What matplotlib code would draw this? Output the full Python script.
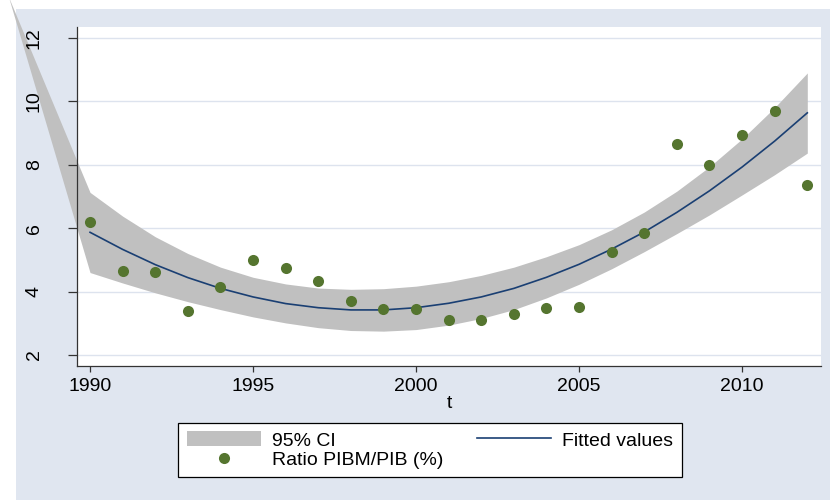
import matplotlib
matplotlib.use("Agg")
import matplotlib.pyplot as plt
from matplotlib.patches import Rectangle, Patch
from matplotlib.lines import Line2D

plt.rcParams['font.family'] = ['Liberation Sans', 'DejaVu Sans']

# observed ratio, one value per year
years = list(range(1990, 2013))
ratio = [6.20, 4.66, 4.63, 3.40, 4.15, 5.01, 4.74, 4.32, 3.69, 3.44, 3.44, 3.10,
         3.09, 3.29, 3.48, 3.52, 5.25, 5.86, 8.65, 8.00, 8.93, 9.69, 7.37]

# quadratic fit
fitted = [5.87, 5.33, 4.85, 4.44, 4.10, 3.83, 3.62, 3.49, 3.42, 3.42, 3.49, 3.63,
          3.83, 4.10, 4.45, 4.86, 5.34, 5.88, 6.50, 7.18, 7.93, 8.75, 9.64]

# 95% confidence band (first point is the stray vertex the band is closed on)
ci_t = [1987.5] + years
ci_lo = [13.3, 4.60, 4.27, 3.96, 3.68, 3.43, 3.20, 3.01, 2.86, 2.77, 2.75, 2.80, 2.94,
         3.15, 3.43, 3.80, 4.23, 4.72, 5.26, 5.83, 6.42, 7.05, 7.69, 8.37]
ci_hi = [13.3, 7.13, 6.38, 5.73, 5.20, 4.77, 4.45, 4.24, 4.11, 4.07, 4.09, 4.17, 4.31,
         4.51, 4.77, 5.10, 5.48, 5.95, 6.51, 7.17, 7.94, 8.82, 9.81, 10.90]

x_ticks = [1990, 1995, 2000, 2005, 2010]
y_ticks = [2, 4, 6, 8, 10, 12]

BG = '#e0e6f0'
GRID = '#dde3ee'
BAND = '#c0c0c0'
NAVY = '#1a3f73'
GREEN = '#55752f'
FS = 14

fig = plt.figure(figsize=(8.3, 5.0), dpi=100)
fig.patch.set_facecolor('white')
fig.patches.append(Rectangle((16 / 830, 0), 1 - 16 / 830, 491 / 500,
                             transform=fig.transFigure, facecolor=BG,
                             edgecolor='none', zorder=-10))

ax = fig.add_axes([77 / 830, 134 / 500, 744 / 830, 339 / 500])
ax.set_facecolor('white')

ax.fill_between(ci_t, ci_lo, ci_hi, color=BAND, linewidth=0, zorder=1, clip_on=False)
ax.plot(years, fitted, color=NAVY, linewidth=1.2, zorder=2)
ax.plot(years, ratio, linestyle='none', marker='o', markersize=8,
        color=GREEN, markeredgewidth=0, zorder=3)

for y in y_ticks:
    ax.axhline(y, color=GRID, linewidth=1.0, zorder=0.5)

ax.set_xlim(1989.6, 2012.42)
ax.set_ylim(1.65, 12.35)
ax.set_xticks(x_ticks)
ax.set_yticks(y_ticks)

for side in ('top', 'right'):
    ax.spines[side].set_visible(False)
for side in ('left', 'bottom'):
    ax.spines[side].set_color('#333333')
    ax.spines[side].set_linewidth(0.9)

ax.tick_params(axis='x', length=4.5, width=0.9, color='#333333', pad=4, labelsize=FS)
ax.tick_params(axis='y', length=6.5, width=0.9, color='#333333', pad=18,
               labelsize=FS, labelrotation=90)
for lab in ax.get_yticklabels():
    lab.set_va('center')

ax.set_xlabel('t', fontsize=FS, labelpad=0)

handles = [Patch(facecolor=BAND, edgecolor='none'),
           Line2D([], [], linestyle='none', marker='o', markersize=8,
                  color=GREEN, markeredgewidth=0),
           Line2D([], [], color=NAVY, linewidth=1.2)]
labels = ['95% CI', 'Ratio PIBM/PIB (%)', 'Fitted values']
leg = fig.legend(handles, labels, ncol=2, loc='center',
                 bbox_to_anchor=(178 / 830, 22 / 500, 504 / 830, 56 / 500),
                 bbox_transform=fig.transFigure, mode='expand', borderaxespad=0,
                 fontsize=FS, frameon=True, fancybox=False, framealpha=1,
                 edgecolor='black', facecolor='white',
                 handlelength=3.8, handleheight=0.8, handletextpad=0.6,
                 labelspacing=0.05, borderpad=0.45, columnspacing=1.7)
leg.get_frame().set_linewidth(0.9)

fig.savefig('out.png', dpi=100)
